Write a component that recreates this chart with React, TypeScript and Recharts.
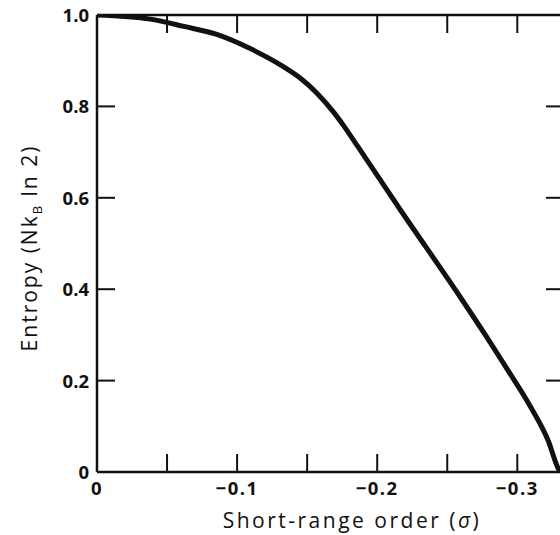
import { LineChart, Line, XAxis, YAxis } from "recharts"

// short-range order parameter and entropy per site (units of N k_B ln 2)
const sigma = [
  0, -0.038, -0.062, -0.086, -0.109, -0.133, -0.145, -0.157, -0.169, -0.176, -0.186, -0.216, -0.259,
  -0.278, -0.293, -0.309, -0.322, -0.3295, -0.3307,
]
const entropy = [
  1.0, 0.991, 0.975, 0.957, 0.927, 0.887, 0.862, 0.829, 0.787, 0.758, 0.713, 0.576, 0.384, 0.296,
  0.224, 0.145, 0.069, 0.006, 0,
]

const xTicks = [0, -0.05, -0.1, -0.15, -0.2, -0.25, -0.3]
const xTickLabels = ["0", "", "\u22120.1", "", "\u22120.2", "", "\u22120.3"]
const yTicks = [0, 0.2, 0.4, 0.6, 0.8, 1.0]
const yTickLabels = ["0", "0.2", "0.4", "0.6", "0.8", "1.0"]

const chartData = sigma.map((s, i) => ({ sigma: s, entropy: entropy[i] }))

const INK = "#111"
const TICK_LEN = 18
const tickFont = { fontFamily: "'Open Sans', sans-serif", fontSize: 18.5, fontWeight: 700, fill: INK }
const titleFont = { fontFamily: "'Open Sans', sans-serif", fontSize: 21, fill: INK }

function BottomTick(props: any) {
  const { x, y, index } = props
  const label = xTickLabels[index]
  return (
    <g>
      <line x1={x} x2={x} y1={y} y2={y - TICK_LEN} stroke={INK} strokeWidth={2} />
      {label && (
        <text x={x} y={y + 23} textAnchor="middle" letterSpacing={1.5} {...tickFont}>
          {label}
        </text>
      )}
    </g>
  )
}

function TopTick(props: any) {
  const { x, y } = props
  return <line x1={x} x2={x} y1={y} y2={y + TICK_LEN} stroke={INK} strokeWidth={2} />
}

function LeftTick(props: any) {
  const { x, y, index } = props
  return (
    <g>
      <line x1={x} x2={x + TICK_LEN} y1={y} y2={y} stroke={INK} strokeWidth={2} />
      <text x={x - 8} y={y + 7} textAnchor="end" {...tickFont}>
        {yTickLabels[index]}
      </text>
    </g>
  )
}

function RightTick(props: any) {
  const { x, y } = props
  return <line x1={x} x2={x - TICK_LEN} y1={y} y2={y} stroke={INK} strokeWidth={2} />
}

function XTitle() {
  return (
    <text x={352} y={528} textAnchor="middle" letterSpacing={2.5} {...titleFont}>
      Short-range order (<tspan fontStyle="italic">σ</tspan>)
    </text>
  )
}

function YTitle() {
  return (
    <text x={0} y={0} transform="translate(37,248) rotate(-90)" textAnchor="middle" letterSpacing={2} {...titleFont}>
      Entropy (Nk
      <tspan fontSize={13} dy={5}>
        B
      </tspan>
      <tspan dy={-5}> ln 2)</tspan>
    </text>
  )
}

export default function App() {
  return (
    <div style={{ position: "absolute", left: 0, top: 0, width: 560, height: 535, overflow: "hidden", background: "#fff" }}>
      <LineChart width={580} height={535} data={chartData} margin={{ top: 10, right: 11, bottom: 33, left: 57 }}>
        <XAxis
          dataKey="sigma"
          type="number"
          domain={[-1 / 3, 0]}
          reversed
          allowDataOverflow
          ticks={xTicks}
          interval={0}
          height={30}
          tickSize={0}
          tickMargin={0}
          tickLine={false}
          axisLine={{ stroke: INK, strokeWidth: 2.5 }}
          tick={<BottomTick />}
          label={<XTitle />}
        />
        <XAxis
          xAxisId="top"
          orientation="top"
          dataKey="sigma"
          type="number"
          domain={[-1 / 3, 0]}
          reversed
          allowDataOverflow
          ticks={xTicks}
          interval={0}
          height={5}
          tickSize={0}
          tickMargin={0}
          tickLine={false}
          axisLine={{ stroke: INK, strokeWidth: 2.5 }}
          tick={<TopTick />}
        />
        <YAxis
          type="number"
          domain={[0, 1]}
          allowDataOverflow
          ticks={yTicks}
          interval={0}
          width={40}
          tickSize={0}
          tickMargin={0}
          tickLine={false}
          axisLine={{ stroke: INK, strokeWidth: 2.5 }}
          tick={<LeftTick />}
          label={<YTitle />}
        />
        <YAxis
          yAxisId="right"
          orientation="right"
          type="number"
          domain={[0, 1]}
          allowDataOverflow
          ticks={yTicks}
          interval={0}
          width={5}
          tickSize={0}
          tickMargin={0}
          tickLine={false}
          axisLine={{ stroke: INK, strokeWidth: 2.5 }}
          tick={<RightTick />}
        />
        <Line
          type="monotone"
          dataKey="entropy"
          stroke={INK}
          strokeWidth={5}
          dot={false}
          isAnimationActive={false}
        />
      </LineChart>
    </div>
  )
}
